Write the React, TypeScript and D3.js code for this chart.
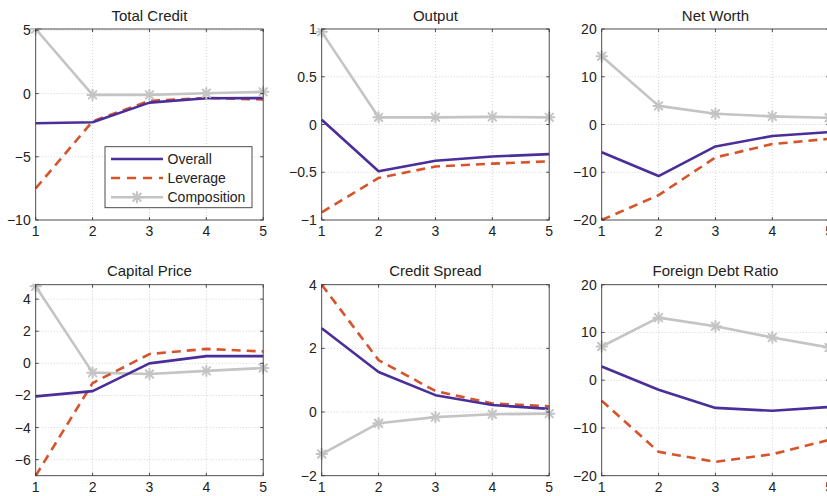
import * as d3 from "d3";

// horizon (quarters)
const periods = [1, 2, 3, 4, 5];

// panel titles
const titles = ["Total Credit", "Output", "Net Worth", "Capital Price", "Credit Spread", "Foreign Debt Ratio"];

// series values, one row per panel
const overall = [
  [-2.35, -2.27, -0.72, -0.37, -0.36],
  [0.05, -0.49, -0.38, -0.335, -0.31],
  [-5.8, -10.8, -4.6, -2.4, -1.6],
  [-2.06, -1.73, 0.0, 0.45, 0.45],
  [2.63, 1.26, 0.53, 0.22, 0.1],
  [2.87, -2.0, -5.8, -6.4, -5.6],
];
const leverage = [
  [-7.5, -2.2, -0.58, -0.35, -0.47],
  [-0.92, -0.56, -0.44, -0.41, -0.385],
  [-20, -14.8, -6.9, -4.1, -3.0],
  [-7.0, -1.23, 0.58, 0.9, 0.74],
  [4.0, 1.63, 0.66, 0.27, 0.18],
  [-4.3, -15.0, -17.1, -15.5, -12.5],
];
const composition = [
  [5.1, -0.11, -0.11, 0.02, 0.13],
  [0.97, 0.075, 0.075, 0.08, 0.075],
  [14.3, 3.9, 2.24, 1.7, 1.4],
  [4.8, -0.58, -0.66, -0.47, -0.29],
  [-1.32, -0.35, -0.16, -0.07, -0.05],
  [7.06, 13.1, 11.3, 8.95, 6.85],
];

// y-axis limits and tick labels
const yLimits = [[-10, 5.1], [-1, 1], [-20, 20], [-7, 4.9], [-2, 4], [-20, 20]];
const yTicks = [
  [-10, -5, 0, 5],
  [-1, -0.5, 0, 0.5, 1],
  [-20, -10, 0, 10, 20],
  [-6, -4, -2, 0, 2, 4],
  [-2, 0, 2, 4],
  [-20, -10, 0, 10, 20],
];

const legendNames = ["Overall", "Leverage", "Composition"];

const W = 827, H = 496;
const colLeft = [35.7, 321.7, 601.7];
const rowTop = [29, 284.7];
const pw = 227.5, ph = 191;
const font = "'Liberation Sans', Arial, Helvetica, sans-serif";
const cOverall = "#4a2e9a";
const cLev = "#d6532b";
const cComp = "#c4c4c4";
const axisCol = "#3a3a3a";

const fmt = (v: number) => {
  const s = String(Math.abs(v));
  return v < 0 ? "\u2212" + s : s;
};

const Star = ({ x, y }: { x: number; y: number }) => {
  const r = 5.2, d = r * 0.72;
  return (
    <g stroke={cComp} strokeWidth={2} strokeLinecap="round">
      <line x1={x - r} y1={y} x2={x + r} y2={y} />
      <line x1={x} y1={y - r} x2={x} y2={y + r} />
      <line x1={x - d} y1={y - d} x2={x + d} y2={y + d} />
      <line x1={x - d} y1={y + d} x2={x + d} y2={y - d} />
    </g>
  );
};

const Panel = ({ i }: { i: number }) => {
  const x0 = colLeft[i % 3], y0 = rowTop[Math.floor(i / 3)];
  const x = d3.scaleLinear().domain([1, 5]).range([x0, x0 + pw]);
  const y = d3.scaleLinear().domain(yLimits[i]).range([y0 + ph, y0]);
  const line = d3.line<number>().x((_, k) => x(periods[k])).y(v => y(v));
  const clipId = "clip" + i;
  return (
    <g>
      <defs>
        <clipPath id={clipId}>
          <rect x={x0 - 8} y={y0 - 1} width={pw + 16} height={ph + 2} />
        </clipPath>
      </defs>
      {/* grid */}
      <g stroke="#c8c8c8" strokeWidth={0.8} strokeDasharray="1,2">
        {periods.slice(1, -1).map(p => (
          <line key={"gx" + p} x1={x(p)} x2={x(p)} y1={y0} y2={y0 + ph} />
        ))}
        {yTicks[i].filter(t => y(t) > y0 + 1 && y(t) < y0 + ph - 1).map(t => (
          <line key={"gy" + t} x1={x0} x2={x0 + pw} y1={y(t)} y2={y(t)} />
        ))}
      </g>
      <g clipPath={`url(#${clipId})`} fill="none" strokeWidth={2.6} strokeLinejoin="round">
        <path d={line(composition[i]) || ""} stroke={cComp} />
        <path d={line(leverage[i]) || ""} stroke={cLev} strokeDasharray="9,6" />
        <path d={line(overall[i]) || ""} stroke={cOverall} />
        {composition[i].map((v, k) => (
          <Star key={k} x={x(periods[k])} y={y(v)} />
        ))}
      </g>
      {/* box */}
      <rect x={x0} y={y0} width={pw} height={ph} fill="none" stroke={axisCol} strokeWidth={0.9} />
      <g stroke={axisCol} strokeWidth={0.9}>
        {periods.map(p => (
          <g key={"tx" + p}>
            <line x1={x(p)} x2={x(p)} y1={y0 + ph} y2={y0 + ph - 3} />
            <line x1={x(p)} x2={x(p)} y1={y0} y2={y0 + 3} />
          </g>
        ))}
        {yTicks[i].map(t => (
          <g key={"ty" + t}>
            <line x1={x0} x2={x0 + 3} y1={y(t)} y2={y(t)} />
            <line x1={x0 + pw} x2={x0 + pw - 3} y1={y(t)} y2={y(t)} />
          </g>
        ))}
      </g>
      <g fontFamily={font} fontSize={14} fill="#222">
        {periods.map(p => (
          <text key={"lx" + p} x={x(p)} y={y0 + ph + 16} textAnchor="middle">{p}</text>
        ))}
        {yTicks[i].map(t => (
          <text key={"ly" + t} x={x0 - 5} y={y(t) + 5} textAnchor="end">{fmt(t)}</text>
        ))}
        <text x={x0 + pw / 2} y={y0 - 8.5} textAnchor="middle" fontSize={15}>{titles[i]}</text>
      </g>
    </g>
  );
};

const Legend = () => {
  const lx = 105, ly = 146.7, lw = 147, lh = 61;
  const rows = [159, 178, 197.3];
  return (
    <g>
      <rect x={lx} y={ly} width={lw} height={lh} fill="#fff" stroke={axisCol} strokeWidth={0.9} />
      {legendNames.map((n, k) => (
        <g key={n}>
          <line x1={111} x2={163} y1={rows[k]} y2={rows[k]}
            stroke={[cOverall, cLev, cComp][k]} strokeWidth={2.6}
            strokeDasharray={k === 1 ? "9,7" : undefined} />
          {k === 2 && <Star x={137} y={rows[k]} />}
          <text x={167.5} y={rows[k] + 5} fontFamily={font} fontSize={14} fill="#222">{n}</text>
        </g>
      ))}
    </g>
  );
};

export default function App() {
  return (
    <svg width={W} height={H} style={{ position: "absolute", left: 0, top: 0, background: "#fff" }}>
      {titles.map((_, i) => <Panel key={i} i={i} />)}
      <Legend />
    </svg>
  );
}
